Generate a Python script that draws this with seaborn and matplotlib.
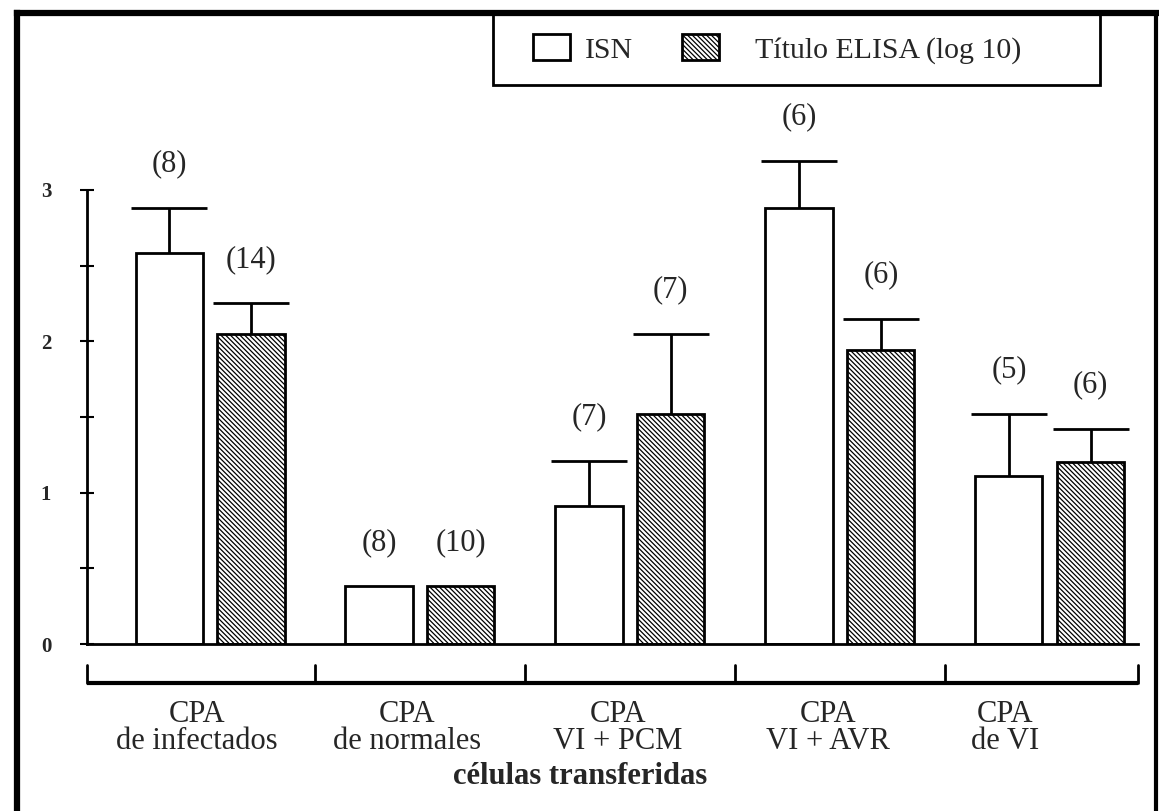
import numpy as np
import pandas as pd
import matplotlib
matplotlib.use("Agg")
import matplotlib.pyplot as plt
import matplotlib.transforms as mtransforms
from matplotlib.patches import Patch, Rectangle
from matplotlib.lines import Line2D
import seaborn as sns

# Grupos de células transferidas y series medidas
grupos = ["CPA\nde infectados", "CPA\nde normales", "CPA\nVI + PCM", "CPA\nVI + AVR", "CPA\nde VI"]
series = ["ISN", "Título ELISA (log 10)"]

isn_media = [2.58, 0.38, 0.91, 2.88, 1.11]
isn_error = [0.30, np.nan, 0.30, 0.31, 0.41]
isn_n = [8, 8, 7, 6, 5]

elisa_media = [2.05, 0.38, 1.52, 1.94, 1.20]
elisa_error = [0.20, np.nan, 0.53, 0.21, 0.22]
elisa_n = [14, 10, 7, 6, 6]

y_ticks = [0, 1, 2, 3]
y_minor = [0.5, 1.5, 2.5]

sns.set_style("white")
plt.rcParams["font.family"] = ["Liberation Serif", "DejaVu Serif"]
plt.rcParams["hatch.linewidth"] = 0.9
plt.rcParams["hatch.color"] = "black"

HATCH = "\\" * 7
W, H = 1159, 811

df = pd.DataFrame({
    "grupo": grupos * 2,
    "serie": [series[0]] * len(grupos) + [series[1]] * len(grupos),
    "valor": isn_media + elisa_media,
})

fig = plt.figure(figsize=(W / 100, H / 100), dpi=100)
ax = fig.add_axes([87 / W, 1 - 644 / H, (1138 - 87) / W, (644 - 99) / H])

sns.barplot(data=df, x="grupo", y="valor", hue="serie", order=grupos, hue_order=series,
            palette=["white", "white"], saturation=1, edgecolor="black", linewidth=2.0,
            width=0.78, gap=0.18, errorbar=None, legend=False, ax=ax)

for bar in ax.containers[1]:
    bar.set_hatch(HATCH)

ax.set_xlim(-0.586, 4.42)
ax.set_ylim(0, 3.6)

# Barras de error (solo hacia arriba) y número de animales
capw = 0.36
for cont, medias, errores, ns in zip(ax.containers, [isn_media, elisa_media],
                                      [isn_error, elisa_error], [isn_n, elisa_n]):
    for bar, m, e, n in zip(cont.patches, medias, errores, ns):
        xc = bar.get_x() + bar.get_width() / 2
        tope = m
        if not np.isnan(e):
            tope = m + e
            ax.vlines(xc, m, tope, color="black", lw=2)
            ax.hlines(tope, xc - capw / 2, xc + capw / 2, color="black", lw=2)
        ax.text(xc, tope + 0.29, f"({n})", ha="center", va="center", fontsize=22)

# Ejes
for s in ("top", "right"):
    ax.spines[s].set_visible(False)
ax.spines["left"].set_bounds(0, 3)
for s in ("left", "bottom"):
    ax.spines[s].set_linewidth(2)
    ax.spines[s].set_color("black")

ax.set_yticks(y_ticks)
ax.set_yticks(y_minor, minor=True)
ax.set_yticklabels([str(t) for t in y_ticks], fontweight="bold", fontsize=15)
ax.tick_params(axis="y", which="both", direction="inout", length=9.5, width=1.5,
               pad=21, left=True, color="black")
ax.tick_params(axis="x", length=0, pad=40, labelsize=22)

# Rótulos de grupo, algo desplazados a la izquierda
desplaz_px = [-13, -13, -12, -12, -45]
for t, dx in zip(ax.get_xticklabels(), desplaz_px):
    t.set_linespacing(0.95)
    t.set_transform(t.get_transform() + mtransforms.ScaledTranslation(dx / 100, 0, fig.dpi_scale_trans))
ax.set_xlabel("")
ax.set_ylabel("")

# Corchete bajo el eje x separando grupos
lims = ax.get_xlim()
bordes = [lims[0]] + [i + 0.5 for i in range(len(grupos) - 1)] + [lims[1]]
y_br, y_tk = -0.258, -0.139
ax.plot([bordes[0], bordes[-1]], [y_br, y_br], color="black", lw=3, clip_on=False,
        solid_capstyle="butt")
for b in bordes:
    ax.plot([b, b], [y_br, y_tk], color="black", lw=2, clip_on=False)

fig.text(580 / W, 1 - 777 / H, "células transferidas", ha="center", va="center",
         fontsize=22, fontweight="bold")

# Leyenda en recuadro superior (una entrada por serie)
legend_kw = dict(loc="center left", frameon=False, fontsize=21.5, handlelength=1.25,
                 handleheight=0.95, borderpad=0, borderaxespad=0)
fig.legend(handles=[Patch(facecolor="white", edgecolor="black", linewidth=2.0, label=series[0])],
           bbox_to_anchor=(533 / W, 1 - 49 / H), handletextpad=0.5, **legend_kw)
fig.legend(handles=[Patch(facecolor="white", edgecolor="black", linewidth=2.0, hatch=HATCH,
                          label=series[1])],
           bbox_to_anchor=(682 / W, 1 - 49 / H), handletextpad=1.2, **legend_kw)
fig.add_artist(Rectangle((493 / W, 1 - 85 / H), (1100 - 493) / W, (85 - 13) / H,
                         transform=fig.transFigure, fill=False, lw=2, edgecolor="black"))

# Marco exterior
top_y = 1 - 13 / H
fig.add_artist(Line2D([17 / W, 17 / W], [0, top_y], transform=fig.transFigure,
                      color="black", lw=4.5, solid_capstyle="projecting"))
fig.add_artist(Line2D([17 / W, 1], [top_y, top_y], transform=fig.transFigure,
                      color="black", lw=4.5, solid_capstyle="projecting"))
fig.add_artist(Line2D([1156 / W, 1156 / W], [0, top_y], transform=fig.transFigure,
                      color="black", lw=3, solid_capstyle="projecting"))

fig.savefig("out.png", dpi=100)
